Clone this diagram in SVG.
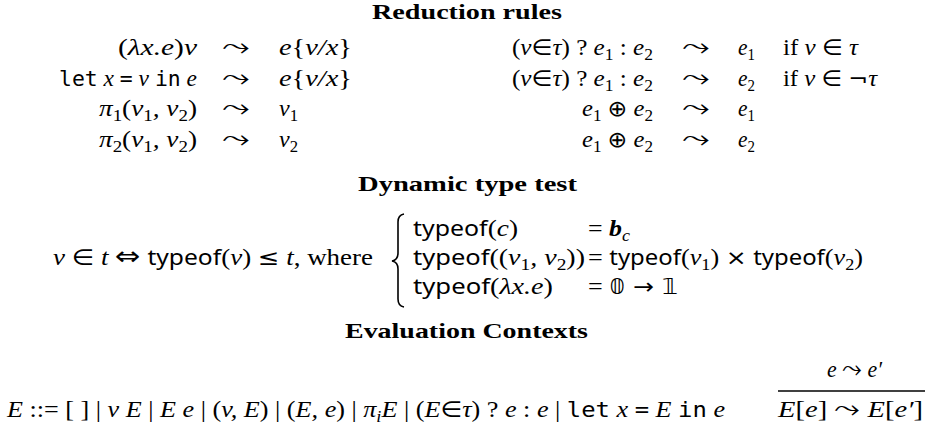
<svg xmlns="http://www.w3.org/2000/svg" width="933" height="431" viewBox="0 0 933 431">
<style>
text { font-family: "Liberation Serif", "DejaVu Serif", serif; font-size: 23px; fill: #000; }
.h { font-weight: bold; font-size: 22px; }
.m { font-style: italic; }
.n { font-style: normal; }
.tt { font-family: "DejaVu Sans Mono", "Liberation Mono", monospace; font-style: normal; font-size: 21px; }
.sf { font-family: "Noto Sans", "Liberation Sans", sans-serif; font-style: normal; font-size: 21px; }
.y { font-family: "DejaVu Sans", sans-serif; font-style: normal; font-size: 22px; }
.ar { font-family: "DejaVu Sans", sans-serif; font-style: normal; font-size: 26px; }
.s { font-size: 16px; baseline-shift: -5px; }
.bi { font-weight: bold; font-style: italic; }
.rule { stroke: #000; stroke-width: 1.3; fill: none; }
.brace { stroke: #000; stroke-width: 1.6; fill: none; }
</style>
<rect width="933" height="431" fill="#fff"/>

<g id="reduction-rules">
<text class="h" x="372" y="19" textLength="190" lengthAdjust="spacingAndGlyphs">Reduction rules</text>

<text class="m" x="118" y="55" textLength="79" lengthAdjust="spacingAndGlyphs"><tspan class="n">(</tspan>λx.e<tspan class="n">)</tspan>v</text>
<text class="ar" x="222" y="55" textLength="28" lengthAdjust="spacingAndGlyphs">⤳</text>
<text class="m" x="279" y="55" textLength="73" lengthAdjust="spacingAndGlyphs">e<tspan class="n">{</tspan>v/x<tspan class="n">}</tspan></text>

<text class="m" x="59" y="86" textLength="138" lengthAdjust="spacingAndGlyphs"><tspan class="tt">let</tspan> x <tspan class="tt">=</tspan> v <tspan class="tt">in</tspan> e</text>
<text class="ar" x="222" y="86" textLength="28" lengthAdjust="spacingAndGlyphs">⤳</text>
<text class="m" x="279" y="86" textLength="73" lengthAdjust="spacingAndGlyphs">e<tspan class="n">{</tspan>v/x<tspan class="n">}</tspan></text>

<text class="m" x="99" y="116" textLength="98" lengthAdjust="spacingAndGlyphs">π<tspan class="s n">1</tspan><tspan class="n">(</tspan>v<tspan class="s n">1</tspan>, v<tspan class="s n">2</tspan><tspan class="n">)</tspan></text>
<text class="ar" x="222" y="116" textLength="28" lengthAdjust="spacingAndGlyphs">⤳</text>
<text class="m" x="279" y="116" textLength="19" lengthAdjust="spacingAndGlyphs">v<tspan class="s n">1</tspan></text>

<text class="m" x="99" y="147" textLength="98" lengthAdjust="spacingAndGlyphs">π<tspan class="s n">2</tspan><tspan class="n">(</tspan>v<tspan class="s n">1</tspan>, v<tspan class="s n">2</tspan><tspan class="n">)</tspan></text>
<text class="ar" x="222" y="147" textLength="28" lengthAdjust="spacingAndGlyphs">⤳</text>
<text class="m" x="279" y="147" textLength="19" lengthAdjust="spacingAndGlyphs">v<tspan class="s n">2</tspan></text>

<text class="m" x="512" y="55" textLength="141" lengthAdjust="spacingAndGlyphs"><tspan class="n">(</tspan>v<tspan class="y">∈</tspan>τ<tspan class="n">) ? </tspan>e<tspan class="s n">1</tspan><tspan class="n"> : </tspan>e<tspan class="s n">2</tspan></text>
<text class="ar" x="682" y="55" textLength="28" lengthAdjust="spacingAndGlyphs">⤳</text>
<text class="m" x="738" y="55" textLength="17" lengthAdjust="spacingAndGlyphs">e<tspan class="s n">1</tspan></text>
<text x="783" y="55" textLength="75" lengthAdjust="spacingAndGlyphs">if <tspan class="m">v</tspan> <tspan class="y">∈</tspan> <tspan class="m">τ</tspan></text>

<text class="m" x="512" y="86" textLength="141" lengthAdjust="spacingAndGlyphs"><tspan class="n">(</tspan>v<tspan class="y">∈</tspan>τ<tspan class="n">) ? </tspan>e<tspan class="s n">1</tspan><tspan class="n"> : </tspan>e<tspan class="s n">2</tspan></text>
<text class="ar" x="682" y="86" textLength="28" lengthAdjust="spacingAndGlyphs">⤳</text>
<text class="m" x="738" y="86" textLength="17" lengthAdjust="spacingAndGlyphs">e<tspan class="s n">2</tspan></text>
<text x="783" y="86" textLength="94" lengthAdjust="spacingAndGlyphs">if <tspan class="m">v</tspan> <tspan class="y">∈</tspan> <tspan class="y">¬</tspan><tspan class="m">τ</tspan></text>

<text class="m" x="582" y="116" textLength="71" lengthAdjust="spacingAndGlyphs">e<tspan class="s n">1</tspan> <tspan class="y">⊕</tspan> e<tspan class="s n">2</tspan></text>
<text class="ar" x="682" y="116" textLength="28" lengthAdjust="spacingAndGlyphs">⤳</text>
<text class="m" x="738" y="116" textLength="17" lengthAdjust="spacingAndGlyphs">e<tspan class="s n">1</tspan></text>

<text class="m" x="582" y="147" textLength="71" lengthAdjust="spacingAndGlyphs">e<tspan class="s n">1</tspan> <tspan class="y">⊕</tspan> e<tspan class="s n">2</tspan></text>
<text class="ar" x="682" y="147" textLength="28" lengthAdjust="spacingAndGlyphs">⤳</text>
<text class="m" x="738" y="147" textLength="17" lengthAdjust="spacingAndGlyphs">e<tspan class="s n">2</tspan></text>
</g>

<g id="dynamic-type-test">
<text class="h" x="358" y="191" textLength="219" lengthAdjust="spacingAndGlyphs">Dynamic type test</text>
<text x="53" y="265" textLength="320" lengthAdjust="spacingAndGlyphs"><tspan class="m">v</tspan> <tspan class="y">∈</tspan> <tspan class="m">t</tspan> <tspan class="ar">⇔</tspan> <tspan class="sf">typeof</tspan>(<tspan class="m">v</tspan>) <tspan class="y">≤</tspan> <tspan class="m">t</tspan>, where</text>
<path class="brace" d="M404,214 Q398,215 398,222 L398,253 Q398,260 392,261 Q398,262 398,269 L398,299 Q398,306 404,307"/>

<text x="413" y="236" textLength="105" lengthAdjust="spacingAndGlyphs"><tspan class="sf">typeof</tspan>(<tspan class="m">c</tspan>)</text>
<text x="588" y="236" textLength="42" lengthAdjust="spacingAndGlyphs">= <tspan class="bi">b</tspan><tspan class="s m">c</tspan></text>

<text x="413" y="265" textLength="172" lengthAdjust="spacingAndGlyphs"><tspan class="sf">typeof</tspan>((<tspan class="m">v</tspan><tspan class="s">1</tspan><tspan class="m">, v</tspan><tspan class="s">2</tspan>))</text>
<text x="588" y="265" textLength="275" lengthAdjust="spacingAndGlyphs">= <tspan class="sf">typeof</tspan>(<tspan class="m">v</tspan><tspan class="s">1</tspan>) <tspan class="y">×</tspan> <tspan class="sf">typeof</tspan>(<tspan class="m">v</tspan><tspan class="s">2</tspan>)</text>

<text x="413" y="294" textLength="140" lengthAdjust="spacingAndGlyphs"><tspan class="sf">typeof</tspan>(<tspan class="m">λx.e</tspan>)</text>
<text x="588" y="294" textLength="90" lengthAdjust="spacingAndGlyphs">= <tspan class="y">𝟘 → 𝟙</tspan></text>
</g>

<g id="evaluation-contexts">
<text class="h" x="345" y="338" textLength="243" lengthAdjust="spacingAndGlyphs">Evaluation Contexts</text>
<text class="m" x="7" y="417" textLength="718" lengthAdjust="spacingAndGlyphs">E <tspan class="n">::= [ ] | </tspan>v E<tspan class="n"> | </tspan>E e<tspan class="n"> | (</tspan>v, E<tspan class="n">) | (</tspan>E, e<tspan class="n">) | </tspan>π<tspan class="s">i</tspan>E<tspan class="n"> | (</tspan>E<tspan class="y">∈</tspan>τ<tspan class="n">) ? </tspan>e<tspan class="n"> : </tspan>e<tspan class="n"> | </tspan><tspan class="tt">let</tspan> x <tspan class="tt">=</tspan> E <tspan class="tt">in</tspan> e</text>

<text class="m" x="827" y="377" textLength="55" lengthAdjust="spacingAndGlyphs">e <tspan class="ar">⤳</tspan> e′</text>
<line class="rule" x1="778" y1="391" x2="925" y2="391"/>
<text class="m" x="778" y="417" textLength="145" lengthAdjust="spacingAndGlyphs">E<tspan class="n">[</tspan>e<tspan class="n">]</tspan> <tspan class="ar">⤳</tspan> E<tspan class="n">[</tspan>e′<tspan class="n">]</tspan></text>
</g>
</svg>
